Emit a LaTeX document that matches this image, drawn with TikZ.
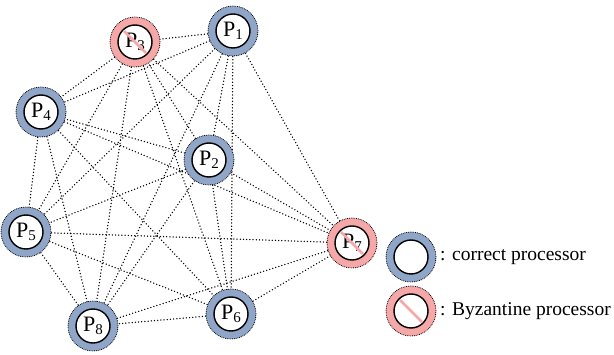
\documentclass[tikz,border=0pt]{standalone}
\usepackage{fontspec}
\setmainfont{Liberation Serif}
\usetikzlibrary{calc}
\definecolor{okblue}{RGB}{143,166,201}
\definecolor{badred}{RGB}{246,168,168}
\tikzset{
  proc/.style={circle, minimum size=50pt, inner sep=0pt, fill=#1, draw=black, densely dotted, line width=0.8pt},
  core/.style={circle, minimum size=34pt, inner sep=0pt, fill=white, draw=black, solid, line width=1.4pt, font=\fontsize{22}{24}\selectfont},
  link/.style={line width=1.5pt, black, line cap=round, dash pattern=on 0pt off 3.2pt},
  slash/.style={badred, line width=2.8pt},
  legend/.style={anchor=west, font=\fontsize{19.5}{22}\selectfont, inner sep=0pt}
}
\newcommand{\plab}[1]{P\raisebox{-0.3ex}{\fontsize{15}{15}\selectfont #1}}
\begin{document}
\begin{tikzpicture}[x=1pt,y=-1pt]
\useasboundingbox (0,0) rectangle (614,355);
% processor positions
\coordinate (c1) at (233,31);
\coordinate (c2) at (209,160);
\coordinate (c3) at (135,42);
\coordinate (c4) at (41,112);
\coordinate (c5) at (26,232);
\coordinate (c6) at (231,314);
\coordinate (c7) at (352,243);
\coordinate (c8) at (93,326);
% complete graph of links
\foreach \a in {1,...,8}{
  \foreach \b in {1,...,8}{
    \ifnum\a<\b
      \draw[link] (c\a) -- (c\b);
    \fi
  }
}
% correct processors
\foreach \i in {1,2,4,5,6,8}{
  \node[proc=okblue] (p\i) at (c\i) {};
  \node[core] (q\i) at (p\i) {\plab{\i}};
}
% Byzantine processors, crossed out
\foreach \i in {3,7}{
  \node[proc=badred] (p\i) at (c\i) {};
  \node[core] (q\i) at (p\i) {\plab{\i}};
  \draw[slash] ($(q\i)+(225:15.5)$) -- ($(q\i)+(45:15.5)$);
}
% legend
\node[proc=okblue] (lg1) at (411,257) {};
\node[core] (lc1) at (lg1) {};
\node[legend] (lt1) at (440,257) {: correct processor};
\node[proc=badred] (lg2) at (411,311) {};
\node[core] (lc2) at (lg2) {};
\draw[slash] ($(lc2)+(225:15.5)$) -- ($(lc2)+(45:15.5)$);
\node[legend] (lt2) at (440,311) {: Byzantine processor};
\end{tikzpicture}
\end{document}
